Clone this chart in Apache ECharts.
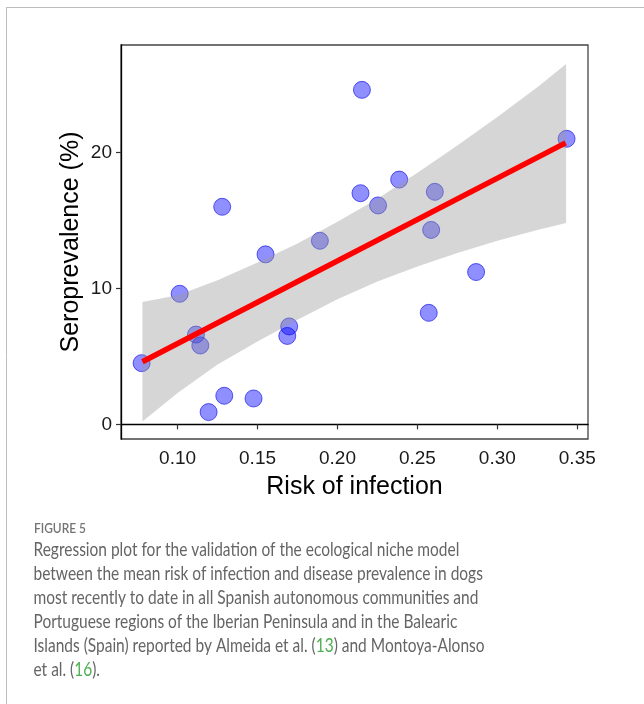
<!DOCTYPE html>
<html>
<head>
<meta charset="utf-8">
<script src="https://cdn.jsdelivr.net/npm/echarts@6/dist/echarts.min.js"></script>
<style>
html,body{margin:0;padding:0;background:#fff;}
#chart{width:644px;height:704px;}
</style>
</head>
<body>
<div id="chart"></div>
<script>
// Observed points: risk of infection vs seroprevalence (%)
var riskX = [0.2153, 0.3433, 0.1279, 0.2386, 0.2144, 0.2609, 0.2254, 0.2586, 0.1890, 0.1550, 0.2867,
             0.1013, 0.2571, 0.1698, 0.1686, 0.1115, 0.1142, 0.0775, 0.1292, 0.1475, 0.1194];
var seroY = [24.6, 21.0, 16.0, 18.0, 17.0, 17.1, 16.1, 14.3, 13.5, 12.5, 11.2,
             9.6, 8.2, 7.2, 6.5, 6.6, 5.8, 4.5, 2.1, 1.9, 0.9];

// Fitted regression line end points
var fitX = [0.078, 0.3427];
var fitY = [4.6, 20.7];

// Confidence band
var bandX     = [0.078, 0.100, 0.125, 0.150, 0.175, 0.200, 0.225, 0.250, 0.275, 0.300, 0.325, 0.343];
var bandUpper = [9.0,   9.5,   10.6,  11.9,  13.3,  14.9,  16.6,  18.5,  20.5,  22.6,  24.8,  26.5];
var bandLower = [0.2,   2.3,   4.4,   6.1,   7.7,   9.2,   10.5,  11.6,  12.6,  13.5,  14.3,  14.8];

// Axis ticks
var xTicks = [0.10, 0.15, 0.20, 0.25, 0.30, 0.35];
var yTicks = [0, 10, 20];

var xTitle = 'Risk of infection';
var yTitle = 'Seroprevalence (%)';

var captionLabel = 'FIGURE 5';
var captionLines = [
  'Regression plot for the validation of the ecological niche model',
  'between the mean risk of infection and disease prevalence in dogs',
  'most recently to date in all Spanish autonomous communities and',
  'Portuguese regions of the Iberian Peninsula and in the Balearic',
  'Islands (Spain) reported by Almeida et al. ({g|13}) and Montoya-Alonso',
  'et al. ({g|16}).'
];

var pts = riskX.map(function (x, i) { return [x, seroY[i]]; });
var fitPts = fitX.map(function (x, i) { return [x, fitY[i]]; });
var bandData = bandX.map(function (x, i) { return [x, bandLower[i], bandUpper[i]]; });

var chart = echarts.init(document.getElementById('chart'), null, {renderer: 'canvas'});

var axisFont = 'Liberation Sans, Arial, sans-serif';
var capFont = 'Lato, "Open Sans", sans-serif';
var capSize = 19;
var capScale = 0.815;

var graphics = [
  {type: 'line', shape: {x1: 6.5, y1: 7, x2: 6.5, y2: 704}, style: {stroke: '#bdbdbd', lineWidth: 1}, silent: true},
  {type: 'line', shape: {x1: 6, y1: 7.5, x2: 644, y2: 7.5}, style: {stroke: '#bdbdbd', lineWidth: 1}, silent: true},
  {type: 'text', x: 34, y: 521, scaleX: 0.85,
   style: {text: captionLabel, x: 0, y: 0, verticalAlign: 'top', font: '600 14px ' + capFont, fill: '#737373'}, silent: true}
];
captionLines.forEach(function (t, i) {
  graphics.push({
    type: 'text', x: 33.5, y: 540 + i * 24.1, scaleX: capScale,
    style: {
      text: t, x: 0, y: 0, verticalAlign: 'top',
      font: capSize + 'px ' + capFont,
      fill: '#656565',
      rich: {g: {fill: '#4caf50', font: capSize + 'px ' + capFont}}
    },
    silent: true
  });
});

var option = {
  animation: false,
  backgroundColor: '#ffffff',
  grid: {left: 121, right: 56, top: 45, bottom: 265, show: true, borderColor: '#444', borderWidth: 1.3, backgroundColor: 'transparent'},
  xAxis: {
    type: 'value', min: 0.0646, max: 0.3567,
    name: xTitle, nameLocation: 'middle', nameGap: 36,
    nameTextStyle: {fontFamily: axisFont, fontSize: 25, color: '#000'},
    axisLine: {show: true, lineStyle: {color: '#000', width: 1.3}},
    axisTick: {show: true, length: 5, customValues: xTicks, lineStyle: {color: '#333', width: 1.2}},
    axisLabel: {customValues: xTicks, margin: 10, fontFamily: axisFont, fontSize: 19, color: '#1a1a1a',
      formatter: function (v) { return v.toFixed(2); }},
    splitLine: {show: false}
  },
  yAxis: {
    type: 'value', min: -1.08, max: 27.9,
    name: yTitle, nameLocation: 'middle', nameGap: 37, nameRotate: 90, nameMoveOverlap: false,
    nameTextStyle: {fontFamily: axisFont, fontSize: 25, color: '#000'},
    axisLine: {show: true, lineStyle: {color: '#000', width: 1.3}},
    axisTick: {show: true, length: 5, customValues: yTicks, lineStyle: {color: '#333', width: 1.2}},
    axisLabel: {customValues: yTicks, margin: 9, fontFamily: axisFont, fontSize: 19, color: '#1a1a1a'},
    splitLine: {show: false}
  },
  series: [
    {
      type: 'scatter', z: 2, data: pts, symbolSize: 17,
      itemStyle: {color: 'rgba(0,0,255,0.55)', borderColor: 'rgba(0,0,230,0.75)', borderWidth: 1},
      silent: true
    },
    {
      type: 'custom', z: 3, data: bandData, silent: true,
      renderItem: function (params, api) {
        if (params.dataIndex !== 0) return null;
        var poly = [];
        for (var i = 0; i < bandX.length; i++) poly.push(api.coord([bandX[i], bandUpper[i]]));
        for (var j = bandX.length - 1; j >= 0; j--) poly.push(api.coord([bandX[j], bandLower[j]]));
        return {type: 'polygon', shape: {points: poly}, style: {fill: 'rgba(153,153,153,0.4)', stroke: null}};
      }
    },
    {
      type: 'line', z: 4, data: fitPts, symbol: 'none', silent: true,
      lineStyle: {color: '#ff0000', width: 5.5, cap: 'butt'}
    }
  ],
  graphic: graphics
};
chart.setOption(option);
</script>
</body>
</html>
